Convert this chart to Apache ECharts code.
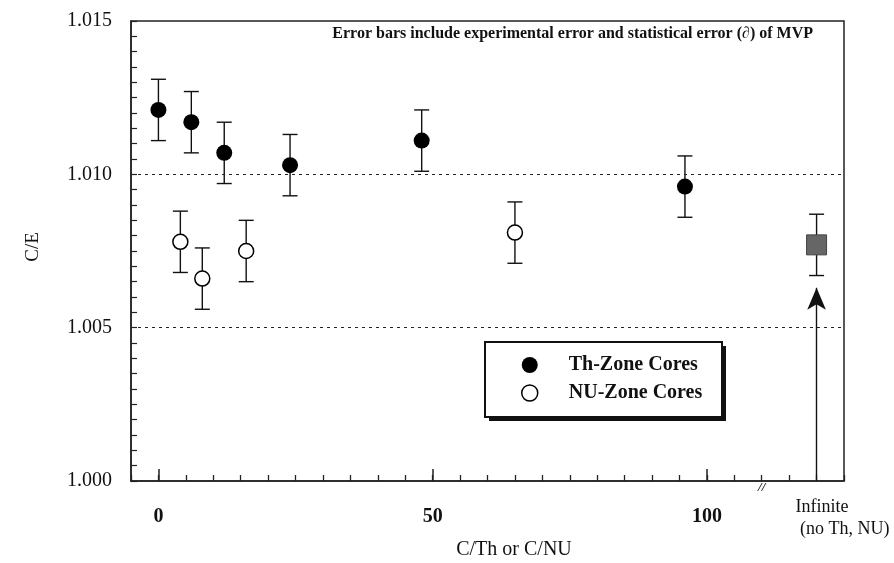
<!DOCTYPE html>
<html>
<head>
<meta charset="utf-8">
<script src="https://cdn.jsdelivr.net/npm/echarts@6/dist/echarts.min.js"></script>
<style>
  html, body { margin: 0; padding: 0; background: #fff; }
  #chart { width: 894px; height: 563px; }
</style>
</head>
<body>
<div id="chart"></div>
<script>
// Th-zone cores: C/Th ratio, C/E value, half-width of error bar
const thX = [0, 6, 12, 24, 48, 96];
const thY = [1.0121, 1.0117, 1.0107, 1.0103, 1.0111, 1.0096];
const thErr = [0.001, 0.001, 0.001, 0.001, 0.001, 0.001];

// NU-zone cores: C/NU ratio, C/E value, half-width of error bar
const nuX = [4, 8, 16, 65];
const nuY = [1.0078, 1.0066, 1.0075, 1.0081];
const nuErr = [0.001, 0.001, 0.001, 0.001];

// Core with no Th / NU (plotted at the "Infinite" position)
const infX = [120];
const infY = [1.0077];
const infErr = [0.001];

// Axis setup
const xLabelValues = [0, 50, 100];
const refLines = [1.005, 1.010];
const breakAt = 110;
const arrowTop = 1.0063;

const SERIF = "'Liberation Serif', 'Times New Roman', serif";
const INK = '#111';

const zip = (xs, ys, es) => xs.map((x, i) => [x, ys[i], es[i]]);

function errorBars(params, api) {
  const x = api.value(0), y = api.value(1), e = api.value(2);
  const hi = api.coord([x, y + e]);
  const lo = api.coord([x, y - e]);
  const hw = 7.5;
  const st = { stroke: INK, lineWidth: 1.4 };
  return {
    type: 'group',
    children: [
      { type: 'line', shape: { x1: hi[0], y1: hi[1], x2: lo[0], y2: lo[1] }, style: st },
      { type: 'line', shape: { x1: hi[0] - hw, y1: hi[1], x2: hi[0] + hw, y2: hi[1] }, style: st },
      { type: 'line', shape: { x1: lo[0] - hw, y1: lo[1], x2: lo[0] + hw, y2: lo[1] }, style: st }
    ]
  };
}

const chart = echarts.init(document.getElementById('chart'), null, { renderer: 'canvas' });

// legend frame with a solid offset shadow
const LEG = { x: 485, y: 342, w: 237, h: 75, off: 4 };

const option = {
  backgroundColor: '#fff',
  animation: false,
  grid: {
    left: 131, top: 21, width: 713, height: 460,
    show: true, borderColor: '#222', borderWidth: 1.5, backgroundColor: 'transparent'
  },
  xAxis: [
    {
      type: 'value', min: -5, max: 125, interval: 5,
      axisLine: { show: true, onZero: false, lineStyle: { color: '#222', width: 1.5 } },
      axisTick: { show: true, inside: true, length: 6, lineStyle: { color: '#222', width: 1.3 } },
      axisLabel: {
        show: true, margin: 26, color: INK,
        fontFamily: SERIF, fontSize: 20, fontWeight: 'bold',
        formatter: v => (xLabelValues.indexOf(v) >= 0 ? String(v) : '')
      },
      splitLine: { show: false }
    },
    {
      type: 'value', min: -5, max: 125, position: 'bottom',
      axisLine: { show: false, onZero: false },
      axisTick: { show: true, inside: true, length: 12, customValues: xLabelValues, lineStyle: { color: '#222', width: 1.5 } },
      axisLabel: { show: false },
      splitLine: { show: false }
    }
  ],
  yAxis: {
    type: 'value', min: 1.000, max: 1.015, interval: 0.005,
    axisLine: { show: true, onZero: false, lineStyle: { color: '#222', width: 1.5 } },
    axisTick: { show: true, inside: true, length: 6, lineStyle: { color: '#222', width: 1.2 } },
    minorTick: { show: true, splitNumber: 10, length: 6, lineStyle: { color: '#222', width: 1.2 } },
    axisLabel: {
      margin: 19, color: INK, fontFamily: SERIF, fontSize: 20,
      formatter: v => v.toFixed(3)
    },
    splitLine: { show: false }
  },
  legend: {
    orient: 'vertical', left: LEG.x, top: LEG.y, z: 6,
    padding: [13, 18, 13, 36], itemGap: 8,
    itemWidth: 16, itemHeight: 16,
    textStyle: { fontFamily: SERIF, fontSize: 20, fontWeight: 'bold', color: INK, padding: [0, 0, 0, 26] },
    data: [
      { name: 'Th-Zone Cores', icon: 'circle', itemStyle: { color: '#000', borderWidth: 0 } },
      { name: 'NU-Zone Cores', icon: 'circle', itemStyle: { color: '#fff', borderColor: '#000', borderWidth: 1.5 } }
    ]
  },
  series: [
    {
      name: 'bars-th', type: 'custom', renderItem: errorBars,
      data: zip(thX, thY, thErr), encode: { x: 0, y: 1 }, z: 2, silent: true
    },
    {
      name: 'bars-nu', type: 'custom', renderItem: errorBars,
      data: zip(nuX, nuY, nuErr), encode: { x: 0, y: 1 }, z: 2, silent: true
    },
    {
      name: 'bars-inf', type: 'custom', renderItem: errorBars,
      data: zip(infX, infY, infErr), encode: { x: 0, y: 1 }, z: 2, silent: true
    },
    {
      name: 'Th-Zone Cores', type: 'scatter', symbol: 'circle', symbolSize: 16, z: 4,
      itemStyle: { color: '#000', opacity: 1 },
      data: thX.map((x, i) => [x, thY[i]]),
      markLine: {
        silent: true, symbol: 'none', precision: 4, label: { show: false },
        lineStyle: { color: '#222', type: [3, 4], width: 1.2 },
        data: refLines.map(v => ({ yAxis: v }))
      }
    },
    {
      name: 'NU-Zone Cores', type: 'scatter', symbol: 'circle', symbolSize: 15, z: 4,
      itemStyle: { color: '#fff', borderColor: '#000', borderWidth: 1.5, opacity: 1 },
      data: nuX.map((x, i) => [x, nuY[i]])
    },
    {
      name: 'No Th, NU', type: 'scatter', symbol: 'rect', symbolSize: 20, z: 4,
      itemStyle: { color: '#666', borderColor: '#444', borderWidth: 1, opacity: 1 },
      data: infX.map((x, i) => [x, infY[i]]),
      markLine: {
        silent: true, symbol: ['arrow', 'none'], symbolSize: [14, 22], precision: 4,
        label: { show: false },
        lineStyle: { color: '#111', type: 'solid', width: 1.4 },
        data: [[{ coord: [infX[0], arrowTop] }, { coord: [infX[0], 1.000] }]]
      }
    }
  ]
};

chart.setOption(option);

const pInf = chart.convertToPixel({ xAxisIndex: 0, yAxisIndex: 0 }, [infX[0], 1.000]);
const pBrk = chart.convertToPixel({ xAxisIndex: 0, yAxisIndex: 0 }, [breakAt, 1.000]);

chart.setOption({
  graphic: [
    {
      type: 'rect', z: 5,
      shape: { x: LEG.x + LEG.off, y: LEG.y + LEG.off, width: LEG.w, height: LEG.h },
      style: { fill: '#111' }
    },
    {
      type: 'rect', z: 5,
      shape: { x: LEG.x, y: LEG.y, width: LEG.w, height: LEG.h },
      style: { fill: '#fff', stroke: '#111', lineWidth: 2 }
    },
    {
      type: 'text', x: 813, y: 34, z: 10,
      style: {
        text: 'Error bars include experimental error and statistical error (\u2202) of MVP',
        font: 'bold 16px ' + SERIF, fill: INK, textAlign: 'right', textVerticalAlign: 'middle'
      }
    },
    {
      type: 'text', x: 33, y: 247, rotation: Math.PI / 2, z: 10,
      style: { text: 'C/E', font: '19px ' + SERIF, fill: INK, textAlign: 'center', textVerticalAlign: 'middle' }
    },
    {
      type: 'text', x: 514, y: 550, z: 10,
      style: { text: 'C/Th or C/NU', font: '20px ' + SERIF, fill: INK, textAlign: 'center', textVerticalAlign: 'middle' }
    },
    {
      type: 'text', x: pInf[0] - 21, y: pInf[1] + 37, z: 10,
      style: {
        text: 'Infinite\n (no Th, NU)', font: '18px ' + SERIF, lineHeight: 22,
        fill: INK, textAlign: 'left', textVerticalAlign: 'middle'
      }
    },
    {
      type: 'text', x: pBrk[0], y: pBrk[1] + 7, z: 10,
      style: { text: '//', font: 'italic bold 13px ' + SERIF, fill: INK, textAlign: 'center', textVerticalAlign: 'middle' }
    }
  ]
});
</script>
</body>
</html>
